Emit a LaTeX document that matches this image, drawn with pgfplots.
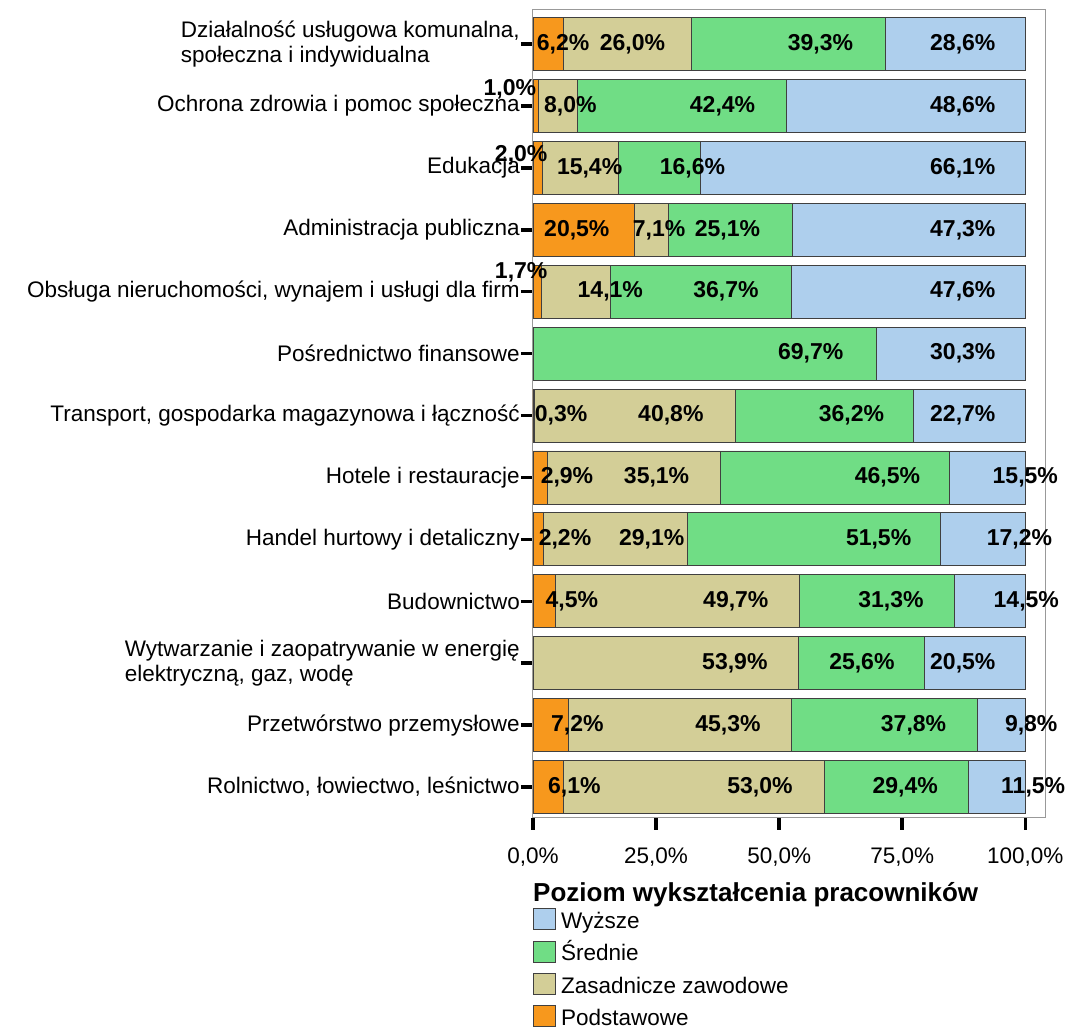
\documentclass[border=0pt]{standalone}
\usepackage{fontspec}
\setmainfont{Liberation Sans}
\usepackage{pgfplots}
\usepackage{pgfplotstable}
\pgfplotsset{compat=1.18}

\definecolor{cOr}{RGB}{247,152,29}
\definecolor{cTan}{RGB}{211,206,151}
\definecolor{cGr}{RGB}{112,221,133}
\definecolor{cBl}{RGB}{174,207,237}

% shares: a = Podstawowe, b = Zasadnicze zawodowe, c = Srednie, d = Wyzsze
\pgfplotstableread{
y  a    b    c    d
0  6.1  53.0 29.4 11.5
1  7.2  45.3 37.8 9.8
2  0    53.9 25.6 20.5
3  4.5  49.7 31.3 14.5
4  2.2  29.1 51.5 17.2
5  2.9  35.1 46.5 15.5
6  0.3  40.8 36.2 22.7
7  0    0    69.7 30.3
8  1.7  14.1 36.7 47.6
9  20.5 7.1  25.1 47.3
10 2.0  15.4 16.6 66.1
11 1.0  8.0  42.4 48.6
12 6.2  26.0 39.3 28.6
}\shares

% label positions (x in %, y in rows) and values
\pgfplotstableread{
x     y     v
6.1   12    6.2
20.2  12    26.0
58.4  12    39.3
87.3  12    28.6
-4.7  11.27 1.0
7.6   11    8.0
38.5  11    42.4
87.3  11    48.6
-2.4  10.2  2.0
11.5  10    15.4
32.4  10    16.6
87.3  10    66.1
8.9   9     20.5
25.6  9     7.1
39.5  9     25.1
87.3  9     47.3
-2.4  8.32  1.7
15.7  8     14.1
39.2  8     36.7
87.3  8     47.6
56.4  7     69.7
87.3  7     30.3
5.7   6     0.3
28.0  6     40.8
64.7  6     36.2
87.3  6     22.7
6.9   5     2.9
25.1  5     35.1
72.0  5     46.5
100.0 5     15.5
6.5   4     2.2
24.1  4     29.1
70.2  4     51.5
98.8  4     17.2
7.9   3     4.5
41.2  3     49.7
72.7  3     31.3
100.2 3     14.5
41.0  2     53.9
66.8  2     25.6
87.3  2     20.5
9.0   1     7.2
39.6  1     45.3
77.3  1     37.8
101.2 1     9.8
8.4   0     6.1
46.1  0     53.0
75.6  0     29.4
101.6 0     11.5
}\labs

\pgfplotsset{
  geom/.style={
    at={(533pt,212pt)}, anchor=south west,
    scale only axis, width=512pt, height=808pt,
    xmin=0, xmax=104, ymin=-0.5, ymax=12.55,
  },
}

\begin{document}
\begin{tikzpicture}
\path[use as bounding box] (0,0) rectangle (1066pt,1030pt);
\begin{axis}[
  geom,
  xbar stacked, bar width=0.856,
  axis line style={black!40, line width=1pt},
  xtick={0,25,50,75,100},
  xticklabels={{0,0\%},{25,0\%},{50,0\%},{75,0\%},{100,0\%}},
  ytick={0,...,12},
  yticklabels={
    {Rolnictwo, łowiectwo, leśnictwo},
    {Przetwórstwo przemysłowe},
    {Wytwarzanie i zaopatrywanie w energię\\elektryczną, gaz, wodę},
    {Budownictwo},
    {Handel hurtowy i detaliczny},
    {Hotele i restauracje},
    {Transport, gospodarka magazynowa i łączność},
    {Pośrednictwo finansowe},
    {Obsługa nieruchomości, wynajem i usługi dla firm},
    {Administracja publiczna},
    {Edukacja},
    {Ochrona zdrowia i pomoc społeczna},
    {Działalność usługowa komunalna,\\społeczna i indywidualna}},
  xtick pos=bottom, ytick pos=left,
  tick align=outside,
  major tick length=12pt,
  tick style={black, line width=3.5pt},
  tick label style={font=\fontsize{22.5}{25}\selectfont},
  yticklabel style={align=left, inner xsep=1pt},
  xticklabel style={yshift=-14pt},
  reverse legend,
  legend style={draw=none, fill=none, inner sep=0pt, at={(axis description cs:0,-0.1114)}, anchor=north west,
    font=\fontsize{22.5}{25}\selectfont, row sep=6.9pt,
    nodes={inner sep=0pt, text height=16.5pt, text depth=5.5pt}},
  legend cell align=left,
]
\pgfplotsset{every axis plot/.append style={draw=black!75, line width=0.8pt,
  legend image code/.code={\draw[##1, draw=black!75, line width=1pt] (0pt,-7pt) rectangle (21.5pt,14pt); \path (27pt,0pt);}}}
\addplot[fill=cOr] table[x=a, y=y]{\shares};
\addplot[fill=cTan] table[x=b, y=y]{\shares};
\addplot[fill=cGr] table[x=c, y=y]{\shares};
\addplot[fill=cBl] table[x=d, y=y]{\shares};
\legend{Podstawowe, Zasadnicze zawodowe, Średnie, Wyższe}
\end{axis}
\begin{axis}[geom, hide axis, clip=false]
\addplot[draw=none, mark=none, point meta=explicit,
  nodes near coords={\pgfmathprintnumber[fixed,fixed zerofill,precision=1,use comma,assume math mode=true]{\pgfplotspointmeta}\%},
  every node near coord/.append style={anchor=center, inner sep=0pt, font=\bfseries\fontsize{23}{25}\selectfont}]
  table[x=x, y=y, meta=v]{\labs};
\end{axis}
\node[anchor=base west, inner sep=0pt, font=\bfseries\fontsize{26}{30}\selectfont] at (533pt,128pt) {Poziom wykształcenia pracowników};
\end{tikzpicture}
\end{document}
